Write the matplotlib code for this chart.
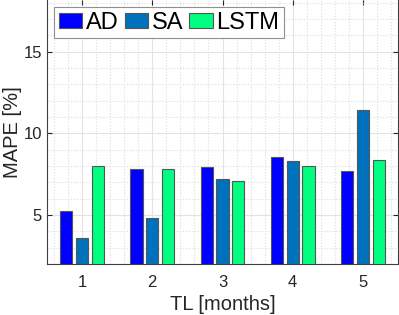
import matplotlib
matplotlib.use('Agg')
import matplotlib.pyplot as plt
import numpy as np
from matplotlib.ticker import MultipleLocator

plt.rcParams['font.family'] = ['Liberation Sans', 'DejaVu Sans']

# TL in months and MAPE for each method
months = [1, 2, 3, 4, 5]
mape_ad = [5.25, 7.8, 7.93, 8.56, 7.72]
mape_sa = [3.57, 4.84, 7.19, 8.31, 11.41]
mape_lstm = [8.0, 7.82, 7.09, 8.0, 8.37]
labels = ['AD', 'SA', 'LSTM']
colors = ['#0000ff', '#0072bd', '#00ff80']

fig = plt.figure(figsize=(3.99, 3.15), dpi=100)
ax = fig.add_axes([47 / 399, 51 / 315, 351 / 399, 264.5 / 315])

x = np.array(months)
offset = 0.225
width = 0.175
for i, (vals, lab, col) in enumerate(zip([mape_ad, mape_sa, mape_lstm], labels, colors)):
    ax.bar(x + (i - 1) * offset, vals, width, color=col, edgecolor='#555555',
           linewidth=0.8, label=lab, zorder=3)

ax.set_xlim(0.5, 5.5)
ax.set_ylim(2, 18.2)
ax.set_xticks(months)
ax.set_yticks([5, 10, 15])
ax.xaxis.set_minor_locator(MultipleLocator(0.2))
ax.yaxis.set_minor_locator(MultipleLocator(1))
ax.grid(True, which='major', color='#e3e3e3', linewidth=0.8, zorder=0)
ax.grid(True, which='minor', color='#dcdcdc', linestyle=':', linewidth=0.8, zorder=0)
ax.set_axisbelow(True)

for s in ax.spines.values():
    s.set_color('#404040')
    s.set_linewidth(0.8)
ax.spines['top'].set_visible(False)
ax.tick_params(which='major', direction='in', length=3.5, top=True, right=True,
               labelsize=12, colors='#262626', pad=3.5)
ax.tick_params(axis='x', pad=8)
ax.tick_params(which='minor', length=0)

ax.set_xlabel('TL [months]', fontsize=14.5, color='#262626', labelpad=3.5)
ax.set_ylabel('MAPE [%]', fontsize=14.5, color='#262626')
ax.yaxis.set_label_coords(-0.072, 0.5)

leg = ax.legend(loc='upper left', ncol=3, fontsize=17, frameon=True, fancybox=False,
                handlelength=1.0, handleheight=0.65, handletextpad=0.15,
                columnspacing=0.25, borderpad=0.2, borderaxespad=0.0,
                bbox_to_anchor=(7 / 351, 1 - 7.5 / 264.5))
leg.get_frame().set_edgecolor('#909090')
leg.get_frame().set_linewidth(0.8)
leg.get_frame().set_alpha(1)

fig.savefig('out.png', dpi=100)
